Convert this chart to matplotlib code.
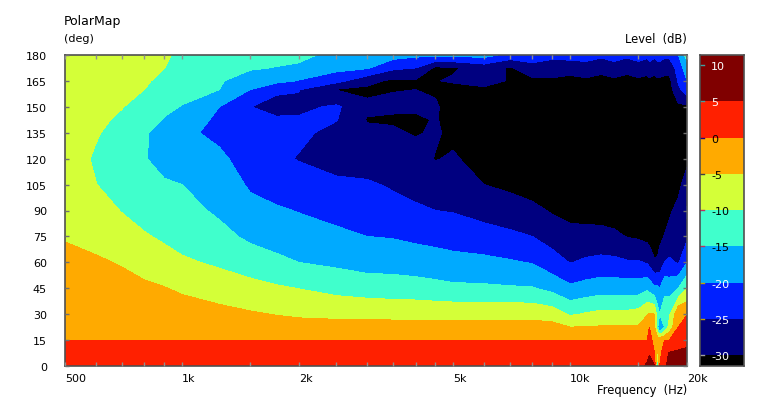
import numpy as np
import matplotlib
matplotlib.use("Agg")
import matplotlib.pyplot as plt
from matplotlib.ticker import NullFormatter

#frequencies (Hz) and angles (deg) of the grid
freqs = [500, 600, 700, 800, 900, 1000, 1250, 1500, 1750, 2000, 2500, 3000, 3500, 4000, 4500, 5000,
         6000, 7000, 8000, 9000, 10000, 11000, 12000, 13000, 14000, 15000, 15800, 16000,
         16500, 16800, 17000, 17500, 18000, 19000, 20000]
angles = [0, 7.5, 15, 22.5, 30, 45, 60, 75, 90, 105, 120, 135, 142.5, 150, 160, 165, 172.5, 180]

#level (dB) for each frequency, from 0 deg up to 180 deg
levels_by_freq = [
    [2.5, 1.3, 0, -.7, -1.3, -2.6, -3.9, -5.3, -6.5, -7.5, -8, -8, -8, -8, -7.9, -7.8, -7.7, -7.5],
    [2.5, 1.3, 0, -.8, -1.5, -3, -4.5, -6.2, -8, -9.9, -10.5, -9.6, -9, -8.6, -8.2, -8, -7.8, -7.6],
    [2.5, 1.3, 0, -.9, -1.8, -3.6, -5.3, -7.8, -10.2, -12, -12.8, -11.8, -10.8, -9.8, -8.8, -8.5, -8.2, -8],
    [2.5, 1.3, 0, -1, -2.1, -4.2, -6.7, -9.5, -12, -13.7, -14.8, -14.7, -13, -11.8, -10, -9.4, -8.9, -8.5],
    [2.5, 1.3, 0, -1.2, -2.4, -4.8, -8, -10.8, -13, -14.6, -16.2, -16, -15.3, -13.9, -12, -11.2, -9.9, -9.2],
    [2.5, 1.3, 0, -1.4, -2.8, -5.7, -9.3, -11.8, -13.5, -15, -18, -19.2, -18, -15.2, -13.4, -12.8, -12, -11.2],
    [2.5, 1.3, 0, -1.8, -3.6, -7.3, -10.8, -13.6, -15.8, -17.5, -19.2, -21, -20.8, -20, -15, -14.6, -13.7, -12.4],
    [2.5, 1.3, 0, -2.2, -4.5, -8.5, -12.3, -16, -18.6, -20.6, -22, -23.5, -24.6, -24.95, -20, -17.4, -14.5, -12.8],
    [2.5, 1.3, 0, -2.6, -5.2, -9.4, -13.8, -17.2, -19.5, -21.8, -24, -24.3, -24.6, -26, -24.5, -18.5, -15.2, -13.3],
    [2.5, 1.3, 0, -3, -5.8, -10.1, -15, -18, -20.2, -22.5, -25.3, -24, -24.5, -26, -24.8, -20.3, -15.8, -13.8],
    [2.5, 1.3, 0, -3.2, -6.2, -11.5, -16, -19, -21.5, -24.5, -26, -26.5, -24.8, -24.3, -30.2, -23.5, -18.5, -16.5],
    [2.5, 1.3, 0, -3.3, -6.3, -12.3, -17, -20, -22.5, -24.5, -27, -29, -30.3, -29, -31, -28.5, -19.5, -17],
    [2.5, 1.3, 0, -3.3, -6.4, -12.7, -17, -20.3, -23.5, -25.5, -28, -29.5, -30.4, -29.5, -30.1, -31, -24, -18],
    [2.5, 1.3, 0, -3.3, -6.4, -13, -17.5, -21, -24.3, -26.5, -28.5, -30.3, -30.5, -29.5, -30, -30.5, -25, -19],
    [2.5, 1.3, 0, -3.3, -6.5, -13.5, -18, -21.5, -25, -27.8, -30.2, -29.5, -29.8, -29.5, -30.5, -30.2, -31, -19],
    [2.5, 1.3, 0, -3.3, -6.5, -14, -18.5, -22, -25.3, -29, -29.5, -31, -31, -32, -31.5, -29.5, -30.5, -19],
    [2.5, 1.3, 0, -3.3, -6.5, -14.2, -18.8, -23, -26.8, -30, -32, -33, -33, -33, -32, -26, -28, -18],
    [2.5, 1.3, 0, -3.3, -6.5, -14.5, -19.5, -24, -27.8, -31, -33, -33, -33, -33, -32, -31, -30.5, -22],
    [2.5, 1.3, 0, -3.3, -6.5, -14.7, -20.3, -25, -28.9, -32, -33, -33, -33, -33, -32, -31, -27, -22],
    [2.5, 1.3, 0, -3.3, -7.5, -16.5, -23, -27, -30.5, -33, -33, -33, -33, -33, -32, -31, -27, -24],
    [2.5, 1.3, 0, -5, -10.6, -19, -25.2, -28.5, -31.5, -33, -33, -33, -33, -33, -32, -31.5, -28, -23],
    [2.5, 1.3, 0, -4.8, -9.5, -18, -24.2, -28.3, -32, -33, -33, -33, -33, -33, -32, -31, -27, -23],
    [2.5, 1.3, 0, -4.6, -8.7, -17.3, -23.6, -28.5, -32, -33, -33, -33, -33, -33, -32, -31.5, -28.5, -24],
    [2.5, 1.3, 0, -4.6, -8.7, -17.3, -23.8, -29, -32.5, -33, -33, -33, -33, -33, -32, -31, -27, -23],
    [2.5, 1.3, 0, -4.5, -8.7, -17.5, -24.5, -30.2, -33, -33, -33, -33, -33, -33, -32, -31.5, -28.5, -24],
    [2.5, 1.3, 0, -4.4, -8, -17.5, -24.5, -30.7, -33, -33, -33, -33, -33, -33, -32, -31, -27, -23],
    [6, 3, 0, -3, -5.2, -16, -25.5, -31.5, -33, -33, -33, -33, -33, -33, -32, -31.5, -28, -24],
    [7, 4.5, 2, 0, -4.6, -17, -26.5, -32, -33, -33, -33, -33, -33, -33, -32, -31, -27, -23],
    [5.2, 0, -2, -5, -5, -19, -29.5, -33, -33, -33, -33, -33, -33, -33, -32, -31.5, -28, -24],
    [-20, -6, -3, -14, -13, -19, -29, -33, -33, -33, -33, -33, -33, -33, -32, -31, -27, -23],
    [0, -2, -1.5, -22, -15, -20, -28.5, -31, -33, -33, -33, -33, -33, -33, -32, -31, -27, -23],
    [4, 3.5, 0, -15, -13, -16, -25, -29.8, -32, -33, -33, -33, -33, -33, -32, -31.5, -28, -24],
    [6.5, 5.3, 0, -8, -11, -17, -24, -29, -30.5, -32, -33, -33, -33, -33, -32, -31.5, -28, -24],
    [8, 6.5, 0.2, 0, -.5, -15, -25.5, -28, -29, -31, -33, -33, -33, -31, -26, -24.5, -23, -20],
    [8, 6.5, 3, 3, -.2, -10, -20, -26, -24.5, -28, -31, -32, -32, -31, -22, -20, -17, -13],
]

#filled bands, bottom to top
band_edges = [-31.5, -30, -25, -20, -15, -10, -5, 0, 5, 11.4]
band_colors = ["#000000", "#000080", "#0020FF", "#00AAFF", "#40FFCC", "#D4FF38", "#FFAA00", "#FF2000", "#800000"]

freq_major = [500, 1000, 2000, 5000, 10000, 20000]
freq_major_labels = ["500", "1k", "2k", "5k", "10k", "20k"]
freq_minor = [600, 700, 800, 900, 1500, 2500, 3000, 3500, 4000, 4500, 6000, 7000, 8000, 9000, 15000]
angle_ticks = [0, 15, 30, 45, 60, 75, 90, 105, 120, 135, 150, 165, 180]
bar_ticks = [10, 5, 0, -5, -10, -15, -20, -25, -30]
bar_tick_text = ["white", "white", "black", "black", "black", "black", "white", "white", "white"]
bar_tick_marks = ["#40A0A0", "#40A0A0", "#200080", "#404040", "#C03060", "#C03060", "#C0A000", "#C0A000", "#A0A0A0"]

W, H = 758, 402
FRAME = "#505050"
plt.rcParams["font.family"] = ["DejaVu Sans"]
plt.rcParams["font.size"] = 8

fig = plt.figure(figsize=(W / 100, H / 100), dpi=100, facecolor="white")
ax = fig.add_axes([65 / W, 1 - 367 / H, (687 - 65) / W, (367 - 56) / H])

z = np.array(levels_by_freq).T
fill_levels = [-50] + band_edges[1:-1] + [50]
ax.contourf(freqs, angles, z, levels=fill_levels, colors=band_colors)

ax.set_xscale("log")
ax.set_xlim(500, 20000)
ax.set_ylim(0, 180)
ax.set_xticks(freq_major)
ax.set_xticklabels(freq_major_labels, ha="left")
ax.set_xticks(freq_minor, minor=True)
ax.xaxis.set_minor_formatter(NullFormatter())
ax.set_yticks(angle_ticks)
ax.set_axisbelow(False)
ax.tick_params(axis="x", which="both", direction="in", top=True, bottom=True, length=3, color="#909090", width=1, pad=5)
ax.tick_params(axis="y", which="major", direction="in", left=True, right=True, length=3, color="#707070", width=1, pad=13)
for s in ax.spines.values():
    s.set_color(FRAME)
    s.set_linewidth(1.2)

#colour bar
cax = fig.add_axes([700 / W, 1 - 367 / H, 44 / W, (367 - 56) / H])
for i in range(len(band_colors)):
    cax.bar(0.5, band_edges[i + 1] - band_edges[i], bottom=band_edges[i], width=1, color=band_colors[i])
cax.set_xlim(0, 1)
cax.set_ylim(band_edges[0], band_edges[-1])
cax.set_xticks([])
cax.set_yticks([])
for s in cax.spines.values():
    s.set_color(FRAME)
    s.set_linewidth(1.2)
for v, tc, mc in zip(bar_ticks, bar_tick_text, bar_tick_marks):
    cax.plot([0, 0.08], [v, v], color=mc, lw=1)
    cax.text(0.25, v - 0.15, str(v), color=tc, va="center", ha="left")

#titles, placed in pixels
fig.text(64 / W, 1 - 21 / H, "PolarMap", fontsize=9, va="center", ha="left")
fig.text(64 / W, 1 - 39 / H, "(deg)", va="center", ha="left")
fig.text(687 / W, 1 - 39 / H, "Level  (dB)", fontsize=8.3, va="center", ha="right")
fig.text(687 / W, 1 - 391 / H, "Frequency  (Hz)", fontsize=8.3, va="center", ha="right")

fig.savefig("out.png", dpi=100)
